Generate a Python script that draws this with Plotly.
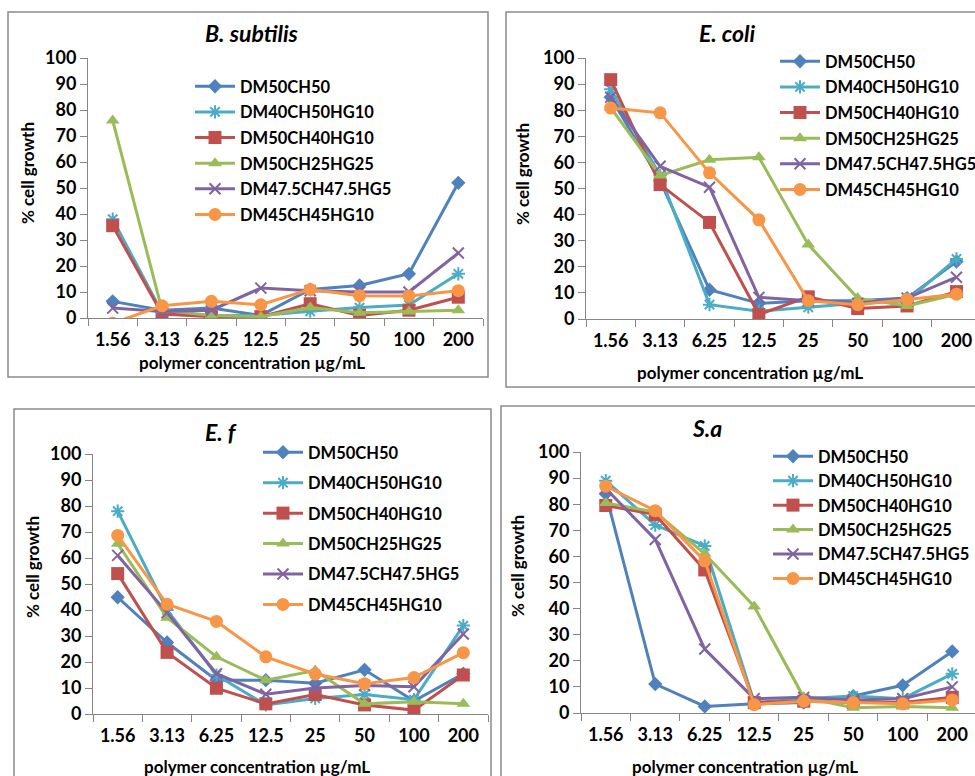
import plotly.graph_objects as go

W, H = 975, 776

categories = ["1.56", "3.13", "6.25", "12.5", "25", "50", "100", "200"]
series_names = ["DM50CH50", "DM40CH50HG10", "DM50CH40HG10", "DM50CH25HG25",
                "DM47.5CH47.5HG5", "DM45CH45HG10"]

# B. subtilis
bs_dm50ch50 = [6.4, 3, 3.8, 1, 11, 12.5, 17, 52]
bs_dm40ch50hg10 = [38, 2, 1, 1, 2.6, 4, 5, 17]
bs_dm50ch40hg10 = [35.5, 1.5, 0.5, 0.5, 5.5, 1, 3, 8]
bs_dm50ch25hg25 = [76, 3, 1, 0.5, 4, 2, 2.5, 3]
bs_dm475ch475hg5 = [3.8, 2.5, 3, 11.5, 10.5, 10, 10, 25]
bs_dm45ch45hg10 = [-2, 4.7, 6.4, 5.1, 11, 8.6, 8.5, 10.5]

# E. coli
ec_dm50ch50 = [85, 53, 11.2, 6, 7, 7, 8, 22]
ec_dm40ch50hg10 = [88, 55, 5.5, 3, 4.5, 6, 7, 23]
ec_dm50ch40hg10 = [91.7, 51.5, 37, 1.7, 8.5, 4, 5, 10.5]
ec_dm50ch25hg25 = [81, 55, 61, 62, 28.5, 8, 5, 9.5]
ec_dm475ch475hg5 = [85, 58.5, 50.5, 8.3, 7, 6, 8, 16]
ec_dm45ch45hg10 = [80.8, 79, 56, 38, 7, 5.5, 7.5, 9.5]

# E. f
ef_dm50ch50 = [44.9, 27.5, 13, 13, 11.8, 17, 5, 15.5]
ef_dm40ch50hg10 = [78, 40, 15, 3.5, 6, 7.5, 5.5, 34]
ef_dm50ch40hg10 = [54, 23.7, 9.9, 3.9, 7.5, 3.5, 1.5, 15]
ef_dm50ch25hg25 = [65.5, 37, 22, 13, 16.7, 3.9, 4.7, 3.9]
ef_dm475ch475hg5 = [61, 39, 15.5, 7.6, 10, 11, 10.5, 30.8]
ef_dm45ch45hg10 = [68.7, 42.2, 35.6, 22, 15.4, 11.6, 14, 23.6]

# S.a
sa_dm50ch50 = [84, 11.1, 2.5, 3.5, 4, 6.5, 10.6, 23.6]
sa_dm40ch50hg10 = [89, 72, 64, 4, 5.5, 6.5, 5.5, 15]
sa_dm50ch40hg10 = [79.5, 76, 54.8, 4, 4.5, 4, 4, 6]
sa_dm50ch25hg25 = [80.5, 77, 61, 40.8, 6, 2, 2.5, 2]
sa_dm475ch475hg5 = [86, 66.5, 24.5, 5.5, 6, 5, 5.5, 10]
sa_dm45ch45hg10 = [86.9, 77.5, 58.3, 3.2, 4.5, 4, 3.5, 5]

panel_titles = ["B. subtilis", "E. coli", "E. f", "S.a"]
x_title = "polymer concentration µg/mL"
y_title = "% cell growth"
y_ticks = [0, 10, 20, 30, 40, 50, 60, 70, 80, 90, 100]

panels_data = [
    [bs_dm50ch50, bs_dm40ch50hg10, bs_dm50ch40hg10, bs_dm50ch25hg25, bs_dm475ch475hg5, bs_dm45ch45hg10],
    [ec_dm50ch50, ec_dm40ch50hg10, ec_dm50ch40hg10, ec_dm50ch25hg25, ec_dm475ch475hg5, ec_dm45ch45hg10],
    [ef_dm50ch50, ef_dm40ch50hg10, ef_dm50ch40hg10, ef_dm50ch25hg25, ef_dm475ch475hg5, ef_dm45ch45hg10],
    [sa_dm50ch50, sa_dm40ch50hg10, sa_dm50ch40hg10, sa_dm50ch25hg25, sa_dm475ch475hg5, sa_dm45ch45hg10],
]

colors = ["#4F81BD", "#4BACC6", "#C0504D", "#9BBB59", "#8064A2", "#F79646"]
symbols = ["diamond", "asterisk-open", "square", "triangle-up", "x-thin-open", "circle"]
msizes = [11, 11, 13, 12, 11, 13]

FONT = "Lato"


def px(x):
    return x / W


def py(y):
    return 1 - y / H


# layout geometry (pixels): x axis start, x axis end, y of value 0, y of value 100
geom = [
    dict(x0=88, x1=483, y0=318, y100=58, xr=7.5),
    dict(x0=586, x1=975, y0=319, y100=58, xr=7.375),
    dict(x0=93, x1=488, y0=714, y100=454, xr=7.5),
    dict(x0=581, x1=975, y0=713, y100=452, xr=7.46),
]
title_pos = [(252, 33), (727, 33), (221, 432), (707, 428)]
xtitle_pos = [(252, 362), (750, 372), (257, 766), (745, 766)]
ytitle_pos = [(27, 173), (523, 174), (32, 567), (517, 566)]
legend_pos = [(190, 69, 1.2), (775, 44, 1.2), (258, 435, 6), (768, 439, 0)]
box = [(8, 12, 488, 377), (506, 12, 985, 387), (14, 409, 491, 790), (501, 406, 985, 790)]

fig = go.Figure()
layout = dict(
    width=W, height=H, margin=dict(l=0, r=0, t=0, b=0, autoexpand=False),
    paper_bgcolor="white", plot_bgcolor="white", showlegend=True,
)
annotations = []
shapes = []

for p in range(4):
    g = geom[p]
    sfx = "" if p == 0 else str(p + 1)
    leg = "legend" if p == 0 else "legend" + str(p + 1)
    for i, name in enumerate(series_names):
        fig.add_trace(go.Scatter(
            x=categories, y=panels_data[p][i], name=name, mode="lines+markers",
            xaxis="x" + sfx, yaxis="y" + sfx, legend=leg, legendgroup=f"g{p}_{i}",
            line=dict(color=colors[i], width=3),
            marker=dict(symbol=symbols[i], size=msizes[i], color=colors[i],
                        line=dict(color=colors[i], width=2 if "open" in symbols[i] else 0)),
            cliponaxis=True,
        ))
    layout["xaxis" + sfx] = dict(
        domain=[px(g["x0"]), px(g["x1"])], anchor="y" + sfx, type="category",
        range=[-0.5, g["xr"]], showline=True, linecolor="#868686", linewidth=1,
        ticks="outside", ticklen=7, tickcolor="#868686", tickson="boundaries",
        showgrid=False, zeroline=False, ticklabelstandoff=5, automargin=False,
        tickfont=dict(family=FONT, size=18, color="black", weight="bold"),
    )
    layout["yaxis" + sfx] = dict(
        domain=[py(g["y0"]), py(g["y100"])], anchor="x" + sfx, range=[0, 100],
        tickvals=y_ticks, showline=True, linecolor="#868686", linewidth=1,
        ticks="outside", ticklen=7, tickcolor="#868686", showgrid=False, zeroline=False,
        automargin=False,
        tickfont=dict(family=FONT, size=18, color="black", weight="bold"),
    )
    lx, ly, gap = legend_pos[p]
    layout[leg] = dict(
        x=px(lx), y=py(ly), xanchor="left", yanchor="top", bgcolor="rgba(0,0,0,0)",
        font=dict(family=FONT, size=16.5, color="black", weight="bold"),
        tracegroupgap=gap, itemwidth=40, traceorder="grouped",
    )
    tx, ty = title_pos[p]
    annotations.append(dict(text=f"<b><i>{panel_titles[p]}</i></b>", x=px(tx), y=py(ty),
                            xref="paper", yref="paper", showarrow=False,
                            xanchor="center", yanchor="middle",
                            font=dict(family=FONT, size=23, color="black")))
    ax, ay = xtitle_pos[p]
    annotations.append(dict(text=f"<b>{x_title}</b>", x=px(ax), y=py(ay),
                            xref="paper", yref="paper", showarrow=False,
                            xanchor="center", yanchor="middle",
                            font=dict(family=FONT, size=17, color="black")))
    yx, yy = ytitle_pos[p]
    annotations.append(dict(text=f"<b>{y_title}</b>", x=px(yx), y=py(yy), textangle=-90,
                            xref="paper", yref="paper", showarrow=False,
                            xanchor="center", yanchor="middle",
                            font=dict(family=FONT, size=17, color="black")))
    bx0, by0, bx1, by1 = box[p]
    shapes.append(dict(type="rect", xref="paper", yref="paper",
                       x0=px(bx0), y0=py(by0), x1=px(bx1), y1=py(by1),
                       line=dict(color="#8a8a8a", width=1.5), layer="below"))

layout["annotations"] = annotations
layout["shapes"] = shapes
fig.update_layout(**layout)
fig.write_html("out.html")
